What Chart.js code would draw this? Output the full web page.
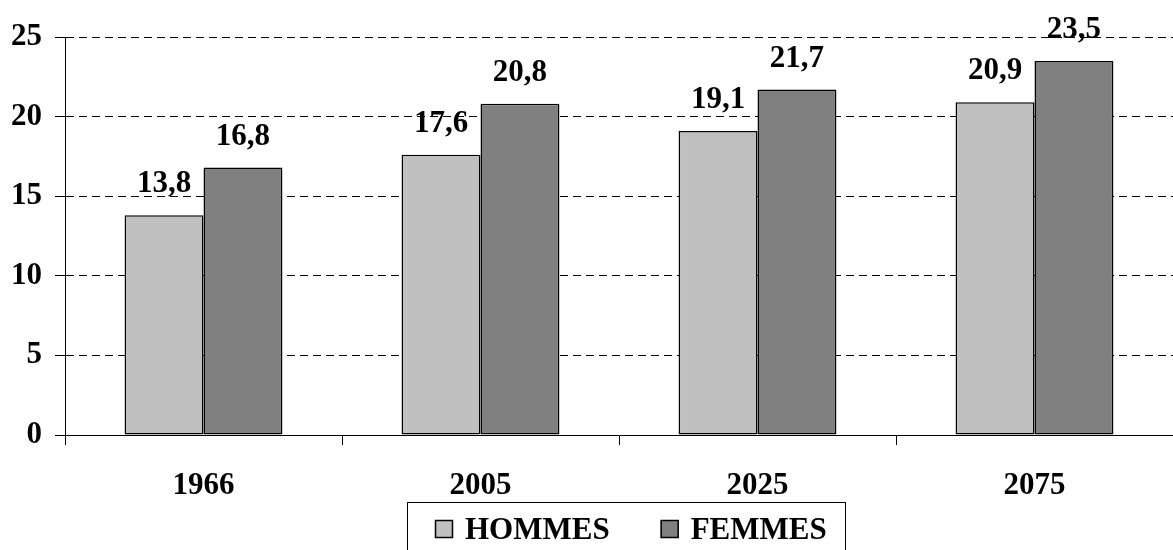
<!DOCTYPE html>
<html>
<head>
<meta charset="utf-8">
<script src="https://cdn.jsdelivr.net/npm/chart.js@4/dist/chart.umd.min.js"></script>
<style>
    body { margin: 0; background: #fff; }
    #wrap { width: 1173px; height: 550px; }
</style>
</head>
<body>
<div id="wrap"><canvas id="ageChart" width="1173" height="550"></canvas></div>
<script>
    // years on the x axis and the two series
    const years = ["1966", "2005", "2025", "2075"];
    const hommes = [13.8, 17.6, 19.1, 20.9];
    const femmes = [16.8, 20.8, 21.7, 23.5];
    const yTicks = [0, 5, 10, 15, 20, 25];

    const serif = "'Liberation Serif', 'Times New Roman', serif";
    Chart.defaults.font.family = serif;
    Chart.defaults.font.weight = "bold";
    Chart.defaults.font.size = 31;
    Chart.defaults.color = "#000";

    function fmt(v) {
        return v.toFixed(1).replace(".", ",");
    }

    // value above every bar
    const barValues = {
        id: "barValues",
        afterDatasetsDraw(chart) {
            const ctx = chart.ctx;
            ctx.save();
            ctx.font = "bold 31px " + serif;
            ctx.fillStyle = "#000";
            ctx.textAlign = "center";
            ctx.textBaseline = "alphabetic";
            chart.data.datasets.forEach(function (ds, i) {
                chart.getDatasetMeta(i).data.forEach(function (bar, j) {
                    ctx.fillText(fmt(ds.data[j]), bar.x, bar.y - 23);
                });
            });
            ctx.restore();
        }
    };

    // legend in a framed box under the axis
    const boxLegend = {
        id: "boxLegend",
        afterDraw(chart) {
            const ctx = chart.ctx;
            ctx.save();
            ctx.strokeStyle = "#000";
            ctx.lineWidth = 1;
            ctx.strokeRect(407.5, 502.5, 438, 60);
            ctx.font = "bold 31px " + serif;
            ctx.textBaseline = "middle";
            ctx.textAlign = "left";
            let x = 435;
            chart.data.datasets.forEach(function (ds) {
                ctx.fillStyle = ds.backgroundColor;
                ctx.fillRect(x, 520, 18, 18);
                ctx.lineWidth = 1.5;
                ctx.strokeRect(x + 0.5, 520.5, 17, 17);
                ctx.fillStyle = "#000";
                ctx.fillText(ds.label, x + 30, 531);
                x += 30 + ctx.measureText(ds.label).width + 51;
            });
            ctx.restore();
        }
    };

    new Chart(document.getElementById("ageChart"), {
        type: "bar",
        data: {
            labels: years,
            datasets: [
                {
                    label: "HOMMES",
                    data: hommes,
                    backgroundColor: "#c0c0c0",
                    borderColor: "#000",
                    borderWidth: 1.5,
                    borderSkipped: false,
                },
                {
                    label: "FEMMES",
                    data: femmes,
                    backgroundColor: "#808080",
                    borderColor: "#000",
                    borderWidth: 1.5,
                    borderSkipped: false,
                },
            ],
        },
        options: {
            responsive: false,
            animation: false,
            categoryPercentage: 0.57,
            barPercentage: 1,
            layout: {
                padding: { top: 37, right: 0, bottom: 48, left: 0 },
            },
            plugins: {
                legend: { display: false },
                tooltip: { enabled: false },
            },
            scales: {
                x: {
                    grid: {
                        offset: true,
                        drawOnChartArea: false,
                        drawTicks: true,
                        tickLength: 10,
                        color: "#000",
                    },
                    border: { color: "#000", width: 1 },
                    ticks: { padding: 22, color: "#000" },
                    afterFit: function (scale) {
                        scale.height = 67;
                    },
                },
                y: {
                    min: 0,
                    max: 25,
                    afterBuildTicks: function (scale) {
                        scale.ticks = yTicks.map(function (v) {
                            return { value: v };
                        });
                    },
                    grid: {
                        color: function (c) {
                            return c.tick && c.tick.value === 0 ? "rgba(0,0,0,0)" : "#000";
                        },
                        tickColor: "#000",
                        tickLength: 10,
                        tickBorderDash: [],
                    },
                    border: { color: "#000", width: 1, dash: [8, 5] },
                    ticks: { padding: 13, color: "#000" },
                    afterFit: function (scale) {
                        scale.width = 65;
                    },
                },
            },
        },
        plugins: [barValues, boxLegend],
    });
</script>
</body>
</html>
